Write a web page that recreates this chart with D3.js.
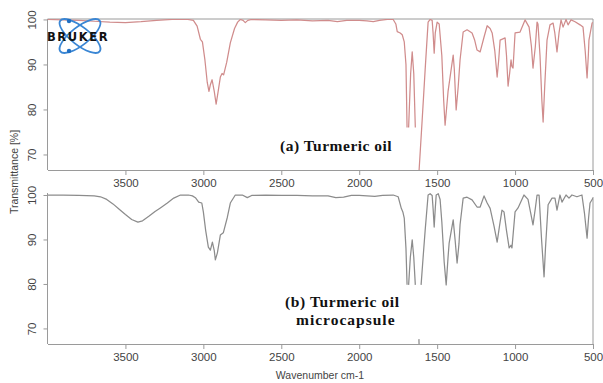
<!DOCTYPE html>
<html>
<head>
<meta charset="utf-8">
<script src="https://cdnjs.cloudflare.com/ajax/libs/d3/7.8.5/d3.min.js"></script>
<style>
  html, body { margin: 0; padding: 0; background: #fff; }
  svg { display: block; }
</style>
</head>
<body>
<div id="chart"></div>
<script>
const xTicks = [3500, 3000, 2500, 2000, 1500, 1000, 500];
const yTicks = [70, 80, 90, 100];

// (a) turmeric oil, null = gap in the trace
const oilWavenumber = [4000, 3900, 3800, 3700, 3600, 3500, 3400, 3300, 3200, 3100, 3064, 3040, 3019, 3006, 2990,
  2975, 2964, 2955, 2944, 2930, 2918, 2905, 2891, 2880, 2870, 2850, 2827, 2800, 2780, 2763, 2745, 2731, 2715,
  2690, 2600, 2500, 2400, 2300, 2200, 2140, 2080, 2000, 1950, 1910, 1870, 1820, 1782, 1765, 1756, 1737, 1724,
  1711, 1700, 1693, 1688, 1683, 1670, 1660, 1650, 1640, 1630, 1616, 1596, 1577, 1558, 1545, 1532, 1526, 1519,
  1512, 1500, 1487, 1470, 1458, 1449, 1440, 1430, 1417, 1397, 1390, 1378, 1365, 1353, 1333, 1308, 1276, 1260,
  1244, 1224, 1199, 1179, 1160, 1147, 1130, 1115, 1105, 1096, 1064, 1055, 1045, 1035, 1026, 1020, 1013, 1000,
  968, 936, 910, 895, 885, 870, 859, 853, 840, 828, 820, 810, 795, 776, 756, 745, 731, 718, 705, 692, 673, 660,
  641, 615, 583, 564, 550, 538, 530, 526, 506, 500];
const oilTransmittance = [100, 99.9, 99.8, 99.6, 99.4, 99.3, 99.5, 99.8, 100, 100, 99.8, 98.5, 95.6, 95, 91,
  86, 84, 85.5, 86.6, 84, 81.2, 84, 87.2, 88, 87.7, 90.5, 94.8, 98, 99.4, 100, 99.8, 99.3, 99.8,
  100, 99.9, 99.8, 99.9, 99.7, 99.8, 99.5, 99.8, 99.8, 99.7, 99.5, 99.8, 100, 100, 99, 97.3, 97, 96.6,
  95, 90, 76, null, 76, 88, 92.8, 88, 76, null, 66.4, 77.7, 88.8, 99.4, 100, 99.8, 97, 92.5,
  97, 99.4, 99, 92, 82, 76.5, 80, 84, 87.2, 92.1, 89, 79.9, 85, 91, 97.2, 97.7, 97, 95.5,
  93.2, 92.8, 96.1, 98.6, 98, 97, 93, 87.2, 91, 95.4, 95.9, 92, 85.2, 88, 91, 89.5, 89.2, 97,
  97.2, 99.9, 98.3, 94, 89.2, 94, 99.4, 99, 92, 82, 77.2, 85, 95.4, 98.8, 99.2, 97, 92.8, 97, 99.9, 98.3, 100, 98.8,
  99.9, 99.5, 98.8, 98.3, 93, 87, 92, 95.4, 99.2, 99.3];

// (b) turmeric oil microcapsule
const capsuleWavenumber = [4000, 3900, 3800, 3700, 3660, 3620, 3580, 3540, 3500, 3460, 3420, 3390, 3350, 3310,
  3276, 3231, 3190, 3147, 3096, 3070, 3051, 3030, 3010, 3000, 2985, 2968, 2955, 2942, 2930, 2923, 2910, 2891,
  2872, 2846, 2827, 2795, 2750, 2718, 2690, 2600, 2500, 2400, 2300, 2200, 2150, 2100, 2050, 2000, 1900, 1850,
  1782, 1750, 1730, 1720, 1711, 1700, 1693, 1688, 1683, 1672, 1660, 1650, 1640, 1630, 1617, 1616, 1610, 1603,
  1590, 1577, 1558, 1545, 1532, 1526, 1519, 1512, 1506, 1493, 1481, 1470, 1455, 1442, 1430, 1423, 1397, 1385,
  1372, 1360, 1353, 1333, 1308, 1276, 1244, 1224, 1199, 1179, 1160, 1135, 1115, 1100, 1084, 1071, 1055, 1038,
  1026, 1020, 1000, 981, 943, 917, 900, 885, 870, 859, 846, 830, 814, 805, 788, 763, 744, 731, 712, 699, 673,
  654, 635, 603, 571, 555, 538, 528, 519, 500];
const capsuleTransmittance = [100, 100, 99.9, 99.8, 99.6, 99, 98, 96.8, 95.6, 94.5, 93.9, 94.2, 95.2, 96.3,
  97.1, 98.2, 99.3, 100, 100, 99.8, 99.4, 98.4, 98.2, 96.2, 92, 88.3, 87.6, 89.4, 87.5, 85.4, 87, 91,
  91.5, 95, 98.2, 100, 100, 99.4, 99.9, 100, 99.9, 99.9, 99.8, 99.8, 99.4, 99.5, 99.9, 99.9, 99.7, 99.9,
  100, 99.6, 97, 96.2, 94.8, 88, 79.8, null, 79.8, 86, 89.9, 86, 79.8, null, 67.6, 66.5, null, 79.8,
  86, 92, 100, 100.3, 99.9, 97, 92.8, 97, 100, 100.3, 99, 94, 85, 79.8, 86, 89.2, 94.4, 90,
  84.7, 89, 93.3, 99.3, 99.5, 98.9, 97.3, 97.3, 99.8, 98.2, 97, 93, 89.4, 93, 96.6, 96.2, 92, 88.1,
  88.7, 88.1, 96.2, 97.1, 100, 99, 96, 93.3, 97, 100, 100, 90, 81.6, 88, 97.8, 99.3, 99.3, 96.6, 100, 98.4, 100,
  99.3, 100, 99.6, 100, 96, 90.3, 95, 98.2, 99.3];

const W = 603, H = 383;
const axisColor = "#9a9a9a";
const textColor = "#444";

const svg = d3.select("#chart")
  .append("svg")
  .attr("width", W)
  .attr("height", H)
  .style("font-family", "'Liberation Sans', Arial, sans-serif");

const x = d3.scaleLinear()
  .domain([4000, 500])
  .range([47.5, 593]);

const panels = [
  { id: "oil", top: 19, bottom: 170, yMin: 66.55, yMax: 100.1, wn: oilWavenumber, t: oilTransmittance,
    color: "#d08c8c", box: true },
  { id: "capsule", top: 193, bottom: 344, yMin: 66.5, yMax: 100.45, wn: capsuleWavenumber, t: capsuleTransmittance,
    color: "#8c8c8c", box: false }
];

panels.forEach(p => {
  const y = d3.scaleLinear()
    .domain([p.yMin, p.yMax])
    .range([p.bottom, p.top]);

  const g = svg.append("g");

  g.append("clipPath")
    .attr("id", "clip-" + p.id)
    .append("rect")
    .attr("x", x.range()[0])
    .attr("y", p.top)
    .attr("width", x.range()[1] - x.range()[0])
    .attr("height", p.bottom - p.top);

  // frame
  g.append("line")
    .attr("x1", x.range()[0]).attr("x2", x.range()[0])
    .attr("y1", p.top).attr("y2", p.bottom)
    .attr("stroke", axisColor);
  g.append("line")
    .attr("x1", x.range()[1]).attr("x2", x.range()[1])
    .attr("y1", p.box ? p.top : p.top + 4).attr("y2", p.bottom)
    .attr("stroke", axisColor);
  if (p.box) {
    g.append("line")
      .attr("x1", x.range()[0]).attr("x2", x.range()[1])
      .attr("y1", p.top).attr("y2", p.top)
      .attr("stroke", axisColor);
  }

  const xAxis = g.append("g")
    .attr("transform", `translate(0,${p.bottom})`)
    .call(d3.axisBottom(x).tickValues(xTicks).tickSize(5).tickSizeOuter(0).tickFormat(d3.format("d")));
  xAxis.select(".domain").attr("stroke", axisColor);
  xAxis.selectAll(".tick line").attr("stroke", axisColor);
  xAxis.selectAll(".tick text")
    .attr("fill", textColor)
    .attr("y", 9)
    .style("font-size", "11.5px")
    .style("font-family", "'Liberation Sans', Arial, sans-serif");

  const yAxis = g.append("g")
    .attr("transform", `translate(${x.range()[0]},0)`)
    .call(d3.axisLeft(y).tickValues(yTicks).tickSize(4).tickSizeOuter(0));
  yAxis.select(".domain").remove();
  yAxis.selectAll(".tick line").attr("stroke", axisColor);
  yAxis.selectAll(".tick text")
    .attr("fill", textColor)
    .attr("x", null)
    .attr("dy", null)
    .attr("text-anchor", "middle")
    .attr("transform", "translate(-12,0) rotate(-90)")
    .style("font-size", "11.5px")
    .style("font-family", "'Liberation Sans', Arial, sans-serif");

  const data = p.wn.map((w, i) => ({ w: w, t: p.t[i] }));

  g.append("path")
    .datum(data)
    .attr("clip-path", `url(#clip-${p.id})`)
    .attr("fill", "none")
    .attr("stroke", p.color)
    .attr("stroke-width", 1.25)
    .attr("stroke-linejoin", "round")
    .attr("d", d3.line()
      .defined(d => d.t !== null)
      .x(d => x(d.w))
      .y(d => y(d.t))
    );
});

// panel captions
const caption = svg.append("g")
  .style("font-family", "'Liberation Serif', 'Times New Roman', serif")
  .style("font-weight", "bold")
  .style("font-size", "15.5px")
  .attr("fill", "#111");

caption.append("text")
  .attr("x", 280).attr("y", 151)
  .style("letter-spacing", "0.5px")
  .text("(a) Turmeric oil");
caption.append("text")
  .attr("x", 285).attr("y", 307)
  .style("letter-spacing", "0.6px")
  .text("(b) Turmeric oil");
caption.append("text")
  .attr("x", 296).attr("y", 325)
  .style("letter-spacing", "1px")
  .text("microcapsule");

// axis titles
svg.append("text")
  .attr("x", 320)
  .attr("y", 379)
  .attr("text-anchor", "middle")
  .attr("fill", textColor)
  .style("font-size", "10.5px")
  .text("Wavenumber cm-1");

svg.append("text")
  .attr("transform", "translate(18,172) rotate(-90)")
  .attr("text-anchor", "middle")
  .attr("fill", textColor)
  .style("font-size", "10.5px")
  .text("Transmittance [%]");

// Bruker logo
const logo = svg.append("g").attr("transform", "translate(80,36)");
[-38, 38].forEach(a => {
  logo.append("ellipse")
    .attr("rx", 25)
    .attr("ry", 9)
    .attr("transform", `rotate(${a})`)
    .attr("fill", "none")
    .attr("stroke", "#3a86d4")
    .attr("stroke-width", 1.8);
});
[[-11, -15], [-11, 15]].forEach(d => {
  logo.append("circle")
    .attr("cx", d[0]).attr("cy", d[1])
    .attr("r", 2.2)
    .attr("fill", "#1f6fc4");
});
svg.append("text")
  .attr("x", 47)
  .attr("y", 40.5)
  .attr("fill", "#111")
  .style("font-family", "'DejaVu Sans', sans-serif")
  .style("font-weight", "900")
  .style("font-size", "11.5px")
  .style("letter-spacing", "1.6px")
  .text("BRUKER");
</script>
</body>
</html>
